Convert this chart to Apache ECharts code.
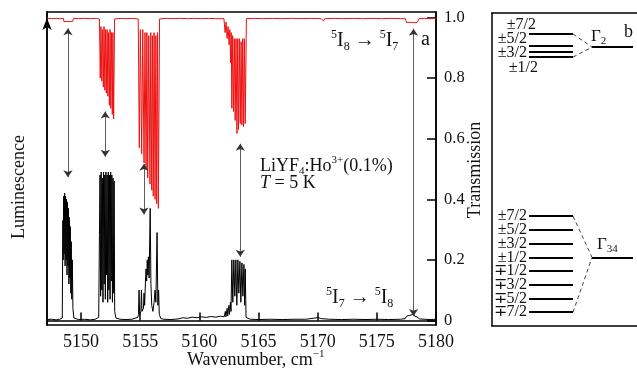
<!DOCTYPE html>
<html>
<head>
<meta charset="utf-8">
<title>LiYF4:Ho3+ spectra</title>
<script src="https://cdn.jsdelivr.net/npm/echarts@6.0.0/dist/echarts.min.js"></script>
<style>
  html, body { margin: 0; padding: 0; background: #fff; }
  #main { width: 637px; height: 370px; }
</style>
</head>
<body>
<div id="main"></div>
<script>
"use strict";
// tick labels
var wavenumberTicks = [5150, 5155, 5160, 5165, 5170, 5175, 5180];
var transmissionTicks = [0, 0.2, 0.4, 0.6, 0.8, 1.0];

// 5I8 -> 5I7 absorption: [wavenumber, transmission]
var transmission = [
  [5147.13, 0.997], [5147.5, 0.996], [5147.9, 0.997], [5148.3, 0.996], [5148.52, 0.997],
  [5148.56, 0.986], [5148.68, 0.983], [5148.8, 0.987], [5148.92, 0.984], [5149.05, 0.986], [5149.18, 0.984], [5149.3, 0.987], [5149.36, 0.997],
  [5149.8, 0.996], [5150.3, 0.997], [5150.8, 0.996], [5151.3, 0.997], [5151.56, 0.995],
  [5151.63, 0.80], [5151.69, 0.97], [5151.76, 0.79], [5151.82, 0.96], [5151.89, 0.77], [5151.95, 0.97],
  [5152.02, 0.76], [5152.08, 0.96], [5152.14, 0.75], [5152.21, 0.96], [5152.27, 0.74], [5152.33, 0.95],
  [5152.40, 0.71], [5152.46, 0.96], [5152.52, 0.70], [5152.58, 0.95], [5152.65, 0.68], [5152.70, 0.95],
  [5152.76, 0.665], [5152.84, 0.995],
  [5153.3, 0.997], [5153.8, 0.996], [5154.3, 0.997], [5154.84, 0.995],
  [5154.93, 0.57], [5155.02, 0.96], [5155.13, 0.55], [5155.22, 0.96], [5155.33, 0.52], [5155.41, 0.95],
  [5155.50, 0.50], [5155.57, 0.95], [5155.64, 0.47], [5155.73, 0.94], [5155.83, 0.45], [5155.90, 0.95],
  [5155.98, 0.43], [5156.04, 0.94], [5156.11, 0.41], [5156.18, 0.95], [5156.26, 0.40], [5156.33, 0.94],
  [5156.40, 0.385], [5156.47, 0.95], [5156.54, 0.37], [5156.64, 0.995],
  [5157.2, 0.997], [5157.8, 0.996], [5158.4, 0.997], [5159.0, 0.996], [5159.6, 0.997], [5160.2, 0.996],
  [5160.8, 0.997], [5161.4, 0.996], [5162.08, 0.996],
  [5162.18, 0.95], [5162.26, 0.985], [5162.35, 0.93], [5162.43, 0.97], [5162.52, 0.91], [5162.58, 0.96],
  [5162.65, 0.85], [5162.70, 0.95], [5162.75, 0.70], [5162.82, 0.94], [5162.89, 0.69], [5162.96, 0.93],
  [5163.03, 0.66], [5163.10, 0.93], [5163.18, 0.617], [5163.24, 0.93], [5163.31, 0.63], [5163.38, 0.93],
  [5163.46, 0.65], [5163.53, 0.92], [5163.60, 0.645], [5163.67, 0.93], [5163.74, 0.64], [5163.81, 0.93],
  [5163.88, 0.65], [5163.98, 0.996],
  [5164.6, 0.997], [5165.4, 0.996], [5166.2, 0.997], [5167.0, 0.996], [5167.8, 0.997], [5168.6, 0.996],
  [5169.4, 0.997], [5170.3, 0.996], [5170.5, 0.988], [5170.6, 0.996], [5171.4, 0.997], [5172.2, 0.996],
  [5173.0, 0.997], [5173.8, 0.996], [5174.6, 0.997], [5175.4, 0.996], [5176.2, 0.997], [5177.0, 0.996], [5177.42, 0.996],
  [5177.5, 0.984], [5177.65, 0.981], [5177.8, 0.984], [5177.95, 0.98], [5178.1, 0.983], [5178.25, 0.98],
  [5178.4, 0.983], [5178.52, 0.985], [5178.58, 0.996],
  [5179.0, 0.997], [5179.5, 0.996], [5180.0, 0.997]
];

// 5I7 -> 5I8 luminescence: [wavenumber, intensity]
var luminescence = [
  [5147.13, 0.003], [5147.5, 0.004], [5147.9, 0.002], [5148.2, 0.004], [5148.42, 0.008],
  [5148.47, 0.33], [5148.50, 0.20], [5148.54, 0.41], [5148.58, 0.22], [5148.62, 0.42], [5148.66, 0.18],
  [5148.70, 0.41], [5148.74, 0.20], [5148.78, 0.40], [5148.82, 0.15], [5148.86, 0.39], [5148.90, 0.18],
  [5148.94, 0.37], [5148.98, 0.12], [5149.02, 0.34], [5149.06, 0.14], [5149.10, 0.31], [5149.14, 0.09],
  [5149.18, 0.26], [5149.22, 0.07], [5149.27, 0.20], [5149.32, 0.04], [5149.40, 0.008],
  [5149.8, 0.003], [5150.3, 0.004], [5150.8, 0.002], [5151.2, 0.004], [5151.5, 0.01],
  [5151.56, 0.28], [5151.61, 0.48], [5151.66, 0.08], [5151.71, 0.49], [5151.76, 0.10], [5151.81, 0.47],
  [5151.86, 0.06], [5151.91, 0.49], [5151.96, 0.12], [5152.01, 0.48], [5152.06, 0.07], [5152.11, 0.49],
  [5152.16, 0.15], [5152.21, 0.48], [5152.26, 0.06], [5152.31, 0.49], [5152.36, 0.10], [5152.41, 0.48],
  [5152.46, 0.07], [5152.51, 0.49], [5152.56, 0.13], [5152.61, 0.48], [5152.66, 0.06], [5152.71, 0.47],
  [5152.76, 0.09], [5152.80, 0.46], [5152.85, 0.03], [5152.95, 0.008],
  [5153.3, 0.004], [5153.8, 0.003], [5154.3, 0.004], [5154.8, 0.01],
  [5154.86, 0.02], [5154.91, 0.10], [5154.96, 0.02], [5155.06, 0.03], [5155.11, 0.10], [5155.16, 0.03],
  [5155.28, 0.04], [5155.33, 0.09], [5155.38, 0.05], [5155.45, 0.13], [5155.50, 0.17], [5155.55, 0.13],
  [5155.60, 0.20], [5155.65, 0.15], [5155.70, 0.21], [5155.76, 0.14], [5155.85, 0.37], [5155.91, 0.12],
  [5155.98, 0.05], [5156.08, 0.03], [5156.18, 0.06], [5156.26, 0.10], [5156.33, 0.06], [5156.43, 0.29],
  [5156.50, 0.05], [5156.56, 0.10], [5156.62, 0.02], [5156.75, 0.006],
  [5157.0, 0.004], [5157.6, 0.003], [5158.2, 0.005], [5158.6, 0.009], [5159.0, 0.007], [5159.4, 0.011],
  [5159.8, 0.009], [5160.2, 0.012], [5160.6, 0.010], [5161.0, 0.013], [5161.4, 0.011], [5161.8, 0.014], [5162.1, 0.012],
  [5162.2, 0.03], [5162.25, 0.012], [5162.35, 0.04], [5162.4, 0.015], [5162.5, 0.05], [5162.55, 0.02],
  [5162.63, 0.06], [5162.68, 0.03],
  [5162.75, 0.20], [5162.83, 0.06], [5162.92, 0.20], [5163.0, 0.08], [5163.09, 0.20], [5163.17, 0.05],
  [5163.26, 0.20], [5163.34, 0.09], [5163.43, 0.195], [5163.51, 0.06], [5163.60, 0.19], [5163.68, 0.08],
  [5163.77, 0.185], [5163.83, 0.05], [5163.88, 0.17], [5163.95, 0.01],
  [5164.3, 0.004], [5165.0, 0.003], [5166.0, 0.004], [5167.0, 0.003], [5168.0, 0.004], [5169.0, 0.004],
  [5169.8, 0.008], [5170.0, 0.01], [5170.3, 0.006], [5171.0, 0.004], [5172.0, 0.003], [5173.0, 0.004],
  [5174.0, 0.003], [5175.0, 0.004], [5176.0, 0.003], [5177.0, 0.004], [5177.4, 0.006],
  [5177.5, 0.014], [5177.6, 0.01], [5177.7, 0.016], [5177.8, 0.012], [5177.9, 0.018], [5178.0, 0.013],
  [5178.1, 0.022], [5178.2, 0.014], [5178.3, 0.017], [5178.4, 0.012], [5178.5, 0.013], [5178.6, 0.005],
  [5179.0, 0.004], [5179.5, 0.003], [5180.0, 0.004]
];

// arrows joining absorption and emission lines: [wavenumber, upper end, lower end]
var transitionArrows = [
  [5148.9, 0.964, 0.473],
  [5152.05, 0.69, 0.54],
  [5155.32, 0.517, 0.35],
  [5163.46, 0.583, 0.21],
  [5178.1, 0.963, 0.015]
];

// panel b: crystal-field sublevels, relative energy
var gamma2Labels = ['±7/2', '±5/2', '±3/2', '±1/2'];
var gamma2Levels = [93.3, 89.5, 87.5, 85.9];
var gamma34Labels = ['±7/2', '±5/2', '±3/2', '±1/2', '∓1/2', '∓3/2', '∓5/2', '∓7/2'];
var gamma34Levels = [35.1, 30.7, 26.4, 21.9, 17.7, 13.3, 8.8, 4.4];
var gammaLevels = [89.1, 21.9];

var serif = '"Liberation Serif", "Times New Roman", serif';
var chart = echarts.init(document.getElementById('main'));

function richSet(size) {
  var small = Math.round(size * 0.62);
  return {
    m: { fontFamily: serif, fontSize: size, lineHeight: size + 4, color: '#111' },
    i: { fontFamily: serif, fontSize: size, fontStyle: 'italic', lineHeight: size + 4, color: '#111' },
    sup: { fontFamily: serif, fontSize: small, lineHeight: Math.round(size * 0.85), verticalAlign: 'top', color: '#111' },
    sub: { fontFamily: serif, fontSize: small, lineHeight: Math.round(size * 0.6), verticalAlign: 'bottom', color: '#111' }
  };
}

function textItem(left, top, text, size) {
  return { type: 'text', left: left, top: top, silent: true,
    style: { text: text, rich: richSet(size), fill: '#111', font: size + 'px ' + serif } };
}

// panel b layout (x in 0..100 panel units)
var barStart = 24.7, barEnd = 54, splitX = 66.7, gammaEnd = 94;
var gamma2LabelShift = [[9, -9], [0, -7], [0, 1], [11, 11]];

function levelData(labels, levels, shifts) {
  return levels.map(function (e, i) {
    var item = { name: labels[i], coords: [[barStart, e], [barEnd, e]] };
    if (shifts) item.label = { offset: shifts[i] };
    return item;
  });
}

var connectors = [
  { coords: [[barEnd, gamma2Levels[0]], [splitX, gammaLevels[0]]] },
  { coords: [[barEnd, gamma2Levels[gamma2Levels.length - 1]], [splitX, gammaLevels[0]]] },
  { coords: [[barEnd, gamma34Levels[0]], [splitX, gammaLevels[1]]] },
  { coords: [[barEnd, gamma34Levels[gamma34Levels.length - 1]], [splitX, gammaLevels[1]]] }
];
var gammaBars = gammaLevels.map(function (e) { return { coords: [[splitX, e], [gammaEnd, e]] }; });

var levelLabel = { show: true, position: 'start', distance: 2, formatter: '{b}',
  fontFamily: serif, fontSize: 16, color: '#111' };
var frameLine = { show: true, lineStyle: { color: '#000', width: 1.5 } };

var option = {
  animation: false,
  backgroundColor: '#fff',
  grid: [
    { left: 47, right: 201, top: 12, bottom: 45, show: true, borderColor: '#000', borderWidth: 1.5, outerBoundsMode: 'none' },
    { left: 492, width: 150, top: 13, bottom: 44, show: false, outerBoundsMode: 'none' }
  ],
  xAxis: [
    {
      type: 'value', gridIndex: 0, min: 5147.13, max: 5180,
      axisLine: { lineStyle: { color: '#000', width: 1.5 } },
      axisTick: { inside: true, length: 8, customValues: wavenumberTicks, lineStyle: { color: '#000', width: 1.5 } },
      axisLabel: { customValues: wavenumberTicks, margin: 8, fontFamily: serif, fontSize: 18, color: '#111',
        formatter: function (v) { return String(v); } },
      splitLine: { show: false }
    },
    { type: 'value', gridIndex: 1, min: 0, max: 100, position: 'bottom', axisLine: frameLine,
      axisTick: { show: false }, axisLabel: { show: false }, splitLine: { show: false } },
    { type: 'value', gridIndex: 1, min: 0, max: 100, position: 'top', axisLine: frameLine,
      axisTick: { show: false }, axisLabel: { show: false }, splitLine: { show: false } }
  ],
  yAxis: [
    {
      type: 'value', gridIndex: 0, position: 'left', min: -0.015, max: 1.018,
      axisLine: { show: true, symbol: ['none', 'arrow'], symbolSize: [7, 12], symbolOffset: [0, -6],
        lineStyle: { color: '#000', width: 1.5 } },
      axisTick: { show: false }, axisLabel: { show: false }, splitLine: { show: false }
    },
    {
      type: 'value', gridIndex: 0, position: 'right', min: -0.015, max: 1.018,
      axisLine: { show: true, lineStyle: { color: '#000', width: 1.5 } },
      axisTick: { show: true, inside: true, length: 9, customValues: transmissionTicks, lineStyle: { color: '#000', width: 1.5 } },
      axisLabel: { customValues: transmissionTicks, margin: 8, fontFamily: serif, fontSize: 16.5, color: '#111',
        formatter: function (v) { return v === 0 ? '0' : v.toFixed(1); } },
      splitLine: { show: false }
    },
    { type: 'value', gridIndex: 1, min: 0, max: 100, position: 'left', axisLine: frameLine,
      axisTick: { show: false }, axisLabel: { show: false }, splitLine: { show: false } }
  ],
  graphic: [
    textItem(331, 29, '{sup|5}{m|I}{sub|8}{m| → }{sup|5}{m|I}{sub|7}', 20),
    textItem(421, 30, '{m|a}', 20),
    textItem(260, 155, '{m|LiYF}{sub|4}{m|:Ho}{sup|3+}{m|(0.1%)}', 18),
    textItem(260, 174, '{i|T}{m| = 5 K}', 18),
    textItem(326, 286, '{sup|5}{m|I}{sub|7}{m| → }{sup|5}{m|I}{sub|8}', 20),
    textItem(187, 349, '{m|Wavenumber, cm}{sup|−1}', 18),
    { type: 'text', x: 19, y: 187, rotation: Math.PI / 2, silent: true,
      style: { text: 'Luminescence', font: '18px ' + serif, fill: '#111', align: 'center', verticalAlign: 'middle' } },
    { type: 'text', x: 475, y: 170, rotation: Math.PI / 2, silent: true,
      style: { text: 'Transmission', font: '18px ' + serif, fill: '#111', align: 'center', verticalAlign: 'middle' } },
    textItem(591, 28, '{m|Γ}{sub|2}', 17),
    textItem(597, 236, '{m|Γ}{sub|34}', 17),
    textItem(624, 23, '{m|b}', 18)
  ],
  series: [
    {
      name: 'Luminescence', type: 'line', xAxisIndex: 0, yAxisIndex: 0,
      data: luminescence, showSymbol: false, symbol: 'none',
      lineStyle: { color: '#000', width: 1 }, z: 2,
      markLine: {
        silent: true, symbol: ['arrow', 'arrow'], symbolSize: 7,
        label: { show: false },
        lineStyle: { color: '#333', width: 0.8, type: 'solid' },
        data: transitionArrows.map(function (a) {
          return [{ coord: [a[0], a[1]] }, { coord: [a[0], a[2]] }];
        })
      }
    },
    {
      name: 'Transmission', type: 'line', xAxisIndex: 0, yAxisIndex: 1,
      data: transmission, showSymbol: false, symbol: 'none',
      lineStyle: { color: '#ee1111', width: 1 }, z: 3
    },
    {
      type: 'lines', coordinateSystem: 'cartesian2d', xAxisIndex: 1, yAxisIndex: 2,
      data: levelData(gamma2Labels, gamma2Levels, gamma2LabelShift),
      lineStyle: { color: '#000', width: 2.2, opacity: 1 }, label: levelLabel
    },
    {
      type: 'lines', coordinateSystem: 'cartesian2d', xAxisIndex: 1, yAxisIndex: 2,
      data: levelData(gamma34Labels, gamma34Levels),
      lineStyle: { color: '#000', width: 2.2, opacity: 1 }, label: levelLabel
    },
    {
      type: 'lines', coordinateSystem: 'cartesian2d', xAxisIndex: 1, yAxisIndex: 2,
      data: connectors, lineStyle: { color: '#444', width: 1, type: [4, 3], opacity: 1 }
    },
    {
      type: 'lines', coordinateSystem: 'cartesian2d', xAxisIndex: 1, yAxisIndex: 2,
      data: gammaBars, lineStyle: { color: '#000', width: 2, opacity: 1 }
    }
  ]
};

chart.setOption(option);
</script>
</body>
</html>
